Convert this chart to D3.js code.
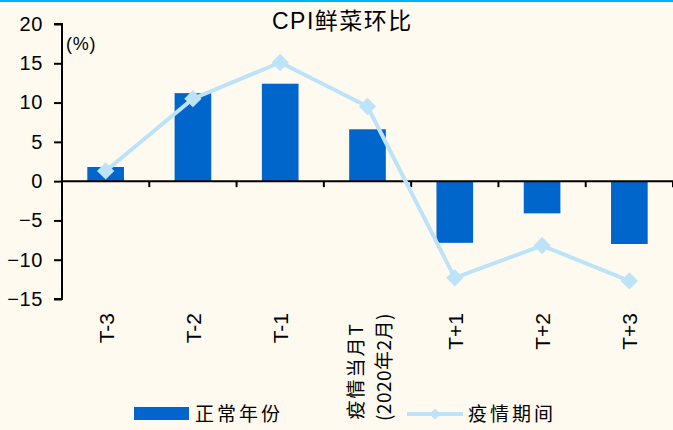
<!DOCTYPE html>
<html>
<head>
<meta charset="utf-8">
<script src="https://cdn.jsdelivr.net/npm/d3@7"></script>
<style>
  html, body { margin: 0; padding: 0; background: #FFFAF0; }
  svg { display: block; }
  text { font-family: "Liberation Sans", Arial, "Noto Sans CJK SC", sans-serif; fill: #000; }
  .cjk { font-family: "Noto Sans CJK SC", sans-serif; }
</style>
</head>
<body>
<script>
// Monthly change in CPI fresh-vegetable prices around the outbreak month
const categories = ["T-3", "T-2", "T-1", "T", "T+1", "T+2", "T+3"];
const normalYears = [1.8, 11.2, 12.4, 6.6, -7.85, -4.1, -8.0];   // 正常年份
const epidemic   = [1.3, 10.5, 15.1, 9.5, -12.3, -8.2, -12.7];  // 疫情期间
const yTicks = [20, 15, 10, 5, 0, -5, -10, -15];
const tLabelLines = ["疫情当月T", "(2020年2月)"];

const W = 673, H = 430;
const barColor = "#0066CC", lineColor = "#BDE3F9";

const svg = d3.select("body").append("svg").attr("width", W).attr("height", H);
svg.append("rect").attr("width", W).attr("height", H).attr("fill", "#FFFAF0");
svg.append("rect").attr("width", W).attr("height", 2).attr("fill", "#00B0F0");

const plotLeft = 62, plotRight = 673, plotTop = 24, plotBottom = 299;
const x = d3.scaleBand().domain(categories).range([plotLeft, plotRight]).paddingInner(0.58).paddingOuter(0.29);
const xc = d3.scalePoint().domain(categories).range([plotLeft, plotRight]).padding(0.5);
const y = d3.scaleLinear().domain([-15, 20]).range([plotBottom, plotTop]);

// title
svg.append("text").attr("x", 272).attr("y", 29)
  .attr("font-size", 23).attr("letter-spacing", 1.5).text("CPI鲜菜环比");

// bars
svg.append("g").selectAll("rect").data(normalYears).join("rect")
  .attr("x", (d, i) => x(categories[i]))
  .attr("width", x.bandwidth())
  .attr("y", d => y(Math.max(0, d)))
  .attr("height", d => Math.abs(y(d) - y(0)))
  .attr("fill", barColor);

// y axis
const yAxis = d3.axisLeft(y).tickValues(yTicks).tickSize(8).tickPadding(11).tickFormat(d3.format("d"));
const gy = svg.append("g").attr("transform", `translate(${plotLeft},0)`).call(yAxis);
gy.select(".domain").attr("stroke", "#000").attr("stroke-width", 2).attr("d", `M-8,${plotTop}H0V${plotBottom}H-8`);
gy.selectAll(".tick line").attr("stroke", "#000").attr("stroke-width", 2);
gy.selectAll(".tick text").attr("font-size", 20).attr("letter-spacing", 0.6)
  .attr("font-family", "Liberation Sans, Arial, sans-serif").attr("fill", "#000");

svg.append("text").attr("x", 66).attr("y", 50).attr("font-size", 18).attr("letter-spacing", 0.8).text("(%)");

// x axis along zero, ticks between categories
const step = x.step();
const gx = svg.append("g");
gx.append("line").attr("x1", plotLeft).attr("x2", plotRight).attr("y1", y(0)).attr("y2", y(0))
  .attr("stroke", "#000").attr("stroke-width", 2);
gx.selectAll("line.tk").data(d3.range(1, categories.length + 1)).join("line").attr("class", "tk")
  .attr("x1", i => plotLeft + i * step).attr("x2", i => plotLeft + i * step)
  .attr("y1", y(0)).attr("y2", y(0) + 6).attr("stroke", "#000").attr("stroke-width", 2);

// category labels (rotated)
categories.forEach(c => {
  const cx = xc(c);
  if (c === "T") {
    svg.append("text").attr("class", "cjk")
      .attr("transform", `translate(${cx - 5},322) rotate(-90)`)
      .attr("text-anchor", "end").attr("font-size", 19).attr("letter-spacing", 2).text(tLabelLines[0]);
    svg.append("text").attr("class", "cjk")
      .attr("transform", `translate(${cx + 23},313) rotate(-90)`)
      .attr("text-anchor", "end").attr("font-size", 19).attr("letter-spacing", 0.5).text(tLabelLines[1]);
  } else {
    svg.append("text")
      .attr("transform", `translate(${cx + 8},313) rotate(-90)`)
      .attr("text-anchor", "end").attr("font-size", 21).text(c);
  }
});

// line series with diamond markers
const line = d3.line().x((d, i) => xc(categories[i])).y(d => y(d));
svg.append("path").datum(epidemic).attr("d", line)
  .attr("fill", "none").attr("stroke", lineColor).attr("stroke-width", 4);
const diamond = d3.symbol().type(d3.symbolSquare).size(150);
svg.append("g").selectAll("path").data(epidemic).join("path")
  .attr("d", diamond)
  .attr("transform", (d, i) => `translate(${xc(categories[i])},${y(d)}) rotate(45)`)
  .attr("fill", lineColor);

// legend
const lg = svg.append("g");
lg.append("rect").attr("x", 134).attr("y", 407).attr("width", 55).attr("height", 13).attr("fill", barColor);
lg.append("text").attr("class", "cjk").attr("x", 195).attr("y", 421).attr("font-size", 19).attr("letter-spacing", 3).text("正常年份");
lg.append("line").attr("x1", 407).attr("x2", 463).attr("y1", 414).attr("y2", 414)
  .attr("stroke", lineColor).attr("stroke-width", 4);
lg.append("path").attr("d", d3.symbol().type(d3.symbolSquare).size(60))
  .attr("transform", "translate(435,414) rotate(45)").attr("fill", lineColor);
lg.append("text").attr("class", "cjk").attr("x", 468).attr("y", 421).attr("font-size", 19).attr("letter-spacing", 3).text("疫情期间");
</script>
</body>
</html>
